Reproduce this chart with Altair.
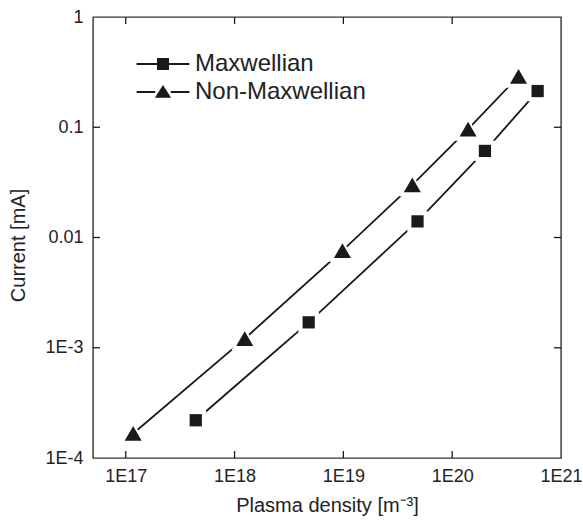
import math
import altair as alt
import pandas as pd

# ---------------- data ----------------
series_names = ["Maxwellian", "Non-Maxwellian"]

max_density = [4.4e17, 4.8e18, 4.8e19, 2.0e20, 6.1e20]
max_current = [2.2e-4, 1.7e-3, 1.4e-2, 6.1e-2, 0.213]

nonmax_density = [1.17e17, 1.24e18, 9.8e18, 4.3e19, 1.4e20, 4.07e20]
nonmax_current = [1.67e-4, 1.21e-3, 7.6e-3, 0.030, 0.096, 0.29]

x_tick_values = [1e17, 1e18, 1e19, 1e20, 1e21]
y_tick_values = [1e-4, 1e-3, 1e-2, 1e-1, 1]
y_tick_labels = ["1E-4", "1E-3", "0.01", "0.1", "1"]
x_inner_ticks = [1e17, 1e18, 1e19, 1e20]
y_inner_ticks = [1e-3, 1e-2, 1e-1]

x_domain = [5e16, 1e21]
y_domain = [1e-4, 1]

x_title = "Plasma density [m\u207B\u00B3]"
y_title = "Current [mA]"

# ---------------- tables ----------------
rows = []
for i, (d, c) in enumerate(zip(max_density, max_current)):
    rows.append({"series": series_names[0], "density": d, "current": c, "order": i})
for i, (d, c) in enumerate(zip(nonmax_density, nonmax_current)):
    rows.append({"series": series_names[1], "density": d, "current": c, "order": i})
df = pd.DataFrame(rows)

xt = pd.DataFrame({"density": x_inner_ticks})
yt = pd.DataFrame({"current": y_inner_ticks})

W, H = 468, 441
FONT = "Liberation Sans"
TXT = "#222222"
INK = "#1a1a1a"
TICK = 7

xscale = alt.Scale(type="log", domain=x_domain, nice=False)
yscale = alt.Scale(type="log", domain=y_domain, nice=False)

y_expr = " : ".join(
    f"abs(log(datum.value)/LN10 - ({int(round(math.log10(v)))})) < 0.1 ? '{lab}'"
    for v, lab in zip(y_tick_values, y_tick_labels)
) + " : ''"

x_axis = alt.Axis(
    values=x_tick_values,
    labelExpr="'1E' + round(log(datum.value)/LN10)",
    tickSize=0, domain=False, grid=False, labelFlush=False,
    labelFontSize=18, labelFont=FONT, labelColor=TXT, labelPadding=9,
    title=x_title, titleFontSize=20, titleFont=FONT, titleFontWeight="normal",
    titleColor=TXT, titlePadding=10,
)
y_axis = alt.Axis(
    values=y_tick_values,
    labelExpr=y_expr,
    tickSize=0, domain=False, grid=False, labelFlush=False,
    labelFontSize=18, labelFont=FONT, labelColor=TXT, labelPadding=10,
    title=y_title, titleFontSize=20, titleFont=FONT, titleFontWeight="normal",
    titleColor=TXT, titlePadding=16, titleY=228,
)

X = alt.X("density:Q", scale=xscale, axis=x_axis)
Y = alt.Y("current:Q", scale=yscale, axis=y_axis)

base = alt.Chart(df)

lines = base.mark_line(color=INK, strokeWidth=1.8).encode(
    x=X, y=Y, detail="series:N", order="order:Q"
)

marker_shapes = ["square", "triangle-up"]

halo = base.mark_point(filled=True, color="white", opacity=1).encode(
    x=X, y=Y,
    shape=alt.Shape("series:N", scale=alt.Scale(domain=series_names, range=marker_shapes), legend=None),
    size=alt.Size("series:N", scale=alt.Scale(domain=series_names, range=[420, 700]), legend=None),
)

points = base.mark_point(filled=True, color=INK, opacity=1).encode(
    x=X, y=Y,
    shape=alt.Shape("series:N", scale=alt.Scale(domain=series_names, range=marker_shapes), legend=None),
    size=alt.Size("series:N", scale=alt.Scale(domain=series_names, range=[150, 290]), legend=None),
)

# legend glyphs: short line - marker - short line, all as filled sub-paths
legend_paths = [
    "M-4.4,-0.15H-1V0.15H-4.4Z M1,-0.15H4.4V0.15H1Z M-1,-1H1V1H-1Z",
    "M-4.4,-0.15H-1.3V0.15H-4.4Z M1.3,-0.15H4.4V0.15H1.3Z M0,-1.15L1.35,0.95L-1.35,0.95Z",
]
legend_layer = base.mark_point(
    filled=True, color=INK, opacity=1, clip=True
).encode(
    x=alt.value(-400), y=alt.value(-400),
    shape=alt.Shape(
        "series:N",
        scale=alt.Scale(domain=series_names, range=legend_paths),
        legend=alt.Legend(
            orient="none", legendX=58, legendY=35, title=None, padding=0,
            symbolSize=144, symbolFillColor=INK, symbolOpacity=1,
            symbolStrokeWidth=0,
            labelFontSize=24, labelFont=FONT, labelColor=TXT, labelLimit=400,
            labelOffset=20, rowPadding=4,
        ),
    ),
)

bottom_ticks = alt.Chart(xt).mark_rule(color=INK, strokeWidth=1.3).encode(
    x=alt.X("density:Q", scale=xscale), y=alt.value(H), y2=alt.value(H - TICK)
)
top_ticks = alt.Chart(xt).mark_rule(color=INK, strokeWidth=1.3).encode(
    x=alt.X("density:Q", scale=xscale), y=alt.value(0), y2=alt.value(TICK)
)
left_ticks = alt.Chart(yt).mark_rule(color=INK, strokeWidth=1.3).encode(
    y=alt.Y("current:Q", scale=yscale), x=alt.value(0), x2=alt.value(TICK)
)
right_ticks = alt.Chart(yt).mark_rule(color=INK, strokeWidth=1.3).encode(
    y=alt.Y("current:Q", scale=yscale), x=alt.value(W - TICK), x2=alt.value(W)
)

chart = (
    alt.layer(lines, halo, points, legend_layer, bottom_ticks, top_ticks, left_ticks, right_ticks)
    .resolve_scale(shape="independent", size="independent")
    .properties(
        width=W, height=H,
        autosize=alt.AutoSizeParams(type="none"),
        padding={"left": 93, "top": 17, "right": 22, "bottom": 62},
        background="white",
    )
    .configure_view(stroke="#333333", strokeWidth=1.4)
)

chart.save("out.html", embed_options={"renderer": "svg", "actions": False})
